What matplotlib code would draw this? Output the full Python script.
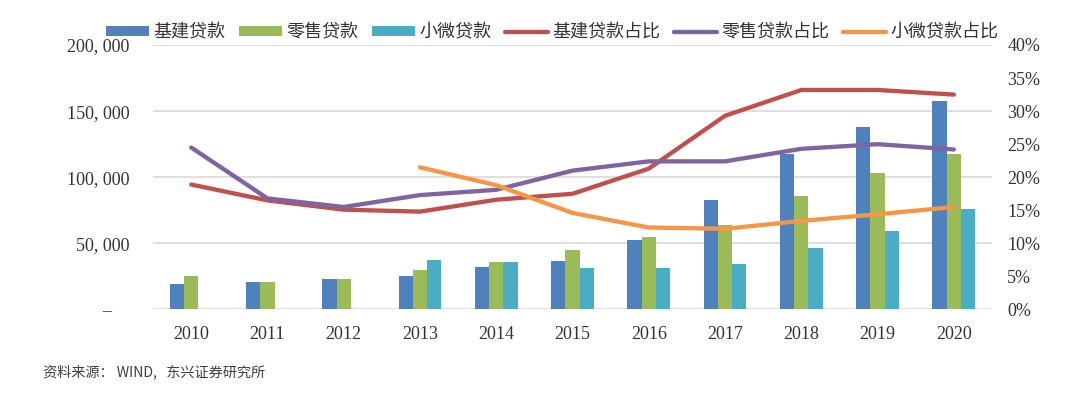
import matplotlib
matplotlib.use('Agg')
import matplotlib.pyplot as plt
import numpy as np

plt.rcParams['font.family'] = ['Noto Sans CJK SC', 'DejaVu Sans']

# 数据
years = ['2010', '2011', '2012', '2013', '2014', '2015', '2016', '2017', '2018', '2019', '2020']
jijian = [19300, 20600, 22900, 25300, 32200, 37000, 52400, 83100, 117700, 137700, 158000]
lingshou = [25600, 20600, 22900, 29900, 35700, 45300, 54700, 64000, 85600, 103300, 117700]
xiaowei = [np.nan, np.nan, np.nan, 37100, 35700, 31200, 31200, 34600, 46400, 59500, 75900]
jijian_pct = [18.9, 16.5, 15.1, 14.8, 16.6, 17.5, 21.3, 29.3, 33.2, 33.2, 32.5]
lingshou_pct = [24.5, 16.8, 15.5, 17.3, 18.1, 21.0, 22.4, 22.4, 24.3, 25.0, 24.2]
xiaowei_pct = [np.nan, np.nan, np.nan, 21.5, 18.8, 14.6, 12.4, 12.2, 13.4, 14.4, 15.5]

left_ticks = [0, 50000, 100000, 150000, 200000]
left_labels = ['–    ', '50, 000', '100, 000', '150, 000', '200, 000']
right_ticks = [0, 5, 10, 15, 20, 25, 30, 35, 40]

c_blue, c_green, c_cyan = '#4F81BD', '#9BBB59', '#4BACC6'
c_red, c_purple, c_orange = '#C0504D', '#8064A2', '#F79646'

fig = plt.figure(figsize=(10.8, 3.93), dpi=100)
ax = fig.add_axes([0.1417, 0.2125, 0.7768, 0.673])

x = np.arange(len(years))
w = 0.187
b1 = ax.bar(x - w, jijian, w, color=c_blue, label='基建贷款')
b2 = ax.bar(x, lingshou, w, color=c_green, label='零售贷款')
b3 = ax.bar(x + w, xiaowei, w, color=c_cyan, label='小微贷款')

ax.set_xlim(-0.5, len(years) - 0.5)
ax.set_ylim(0, 200000)
ax.set_yticks(left_ticks, left_labels)
ax.set_xticks(x, years)
ax.grid(axis='y', color='#D9D9D9', lw=1.2)
ax.set_axisbelow(True)
for s in ax.spines.values():
    s.set_visible(False)
ax.tick_params(axis='y', length=0, pad=17, labelsize=13, labelcolor='#333333')
ax.tick_params(axis='x', length=0, pad=12, labelsize=13, labelcolor='#333333')
for lab in ax.get_yticklabels() + ax.get_xticklabels():
    lab.set_family('Liberation Serif')

ax2 = ax.twinx()
l1, = ax2.plot(x, jijian_pct, color=c_red, lw=3.1, solid_capstyle='round', solid_joinstyle='round', label='基建贷款占比')
l2, = ax2.plot(x, lingshou_pct, color=c_purple, lw=3.1, solid_capstyle='round', solid_joinstyle='round', label='零售贷款占比')
l3, = ax2.plot(x, xiaowei_pct, color=c_orange, lw=3.1, solid_capstyle='round', solid_joinstyle='round', label='小微贷款占比')
ax2.set_ylim(0, 40)
ax2.set_yticks(right_ticks, [f'{t}%' for t in right_ticks])
for s in ax2.spines.values():
    s.set_visible(False)
ax2.tick_params(axis='y', length=0, pad=11, labelsize=13, labelcolor='#333333')
for lab in ax2.get_yticklabels():
    lab.set_family('Liberation Serif')

fig.legend([b1, b2, b3, l1, l2, l3],
           ['基建贷款', '零售贷款', '小微贷款', '基建贷款占比', '零售贷款占比', '小微贷款占比'],
           loc='center', bbox_to_anchor=(0.5116, 0.918), ncol=6, frameon=False,
           fontsize=13, handlelength=2.35, handleheight=0.45, handletextpad=0.28,
           columnspacing=0.75, borderpad=0, labelcolor='#333333')

fig.text(0.04, 0.053, '资料来源： WIND,   东兴证券研究所', fontsize=10.2, style='italic',
         color='#404040', va='center')

fig.savefig('out.png', dpi=100)
